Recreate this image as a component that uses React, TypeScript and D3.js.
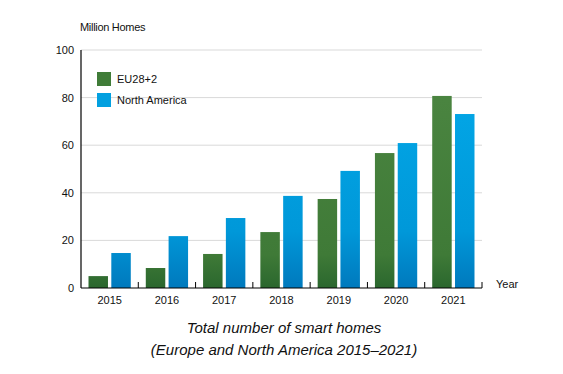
import React, { useEffect, useRef } from 'react';
import * as d3 from 'd3';

const years = ['2015', '2016', '2017', '2018', '2019', '2020', '2021'];
const euValues = [5, 8.4, 14.3, 23.5, 37.4, 56.7, 80.7];
const naValues = [14.7, 21.8, 29.4, 38.7, 49.2, 60.9, 73.1];
const yTicks = [0, 20, 40, 60, 80, 100];
const seriesNames = ['EU28+2', 'North America'];

const App = () => {
  const ref = useRef<SVGSVGElement | null>(null);

  useEffect(() => {
    if (!ref.current) return;
    const svg = d3.select(ref.current);
    svg.selectAll('*').remove();

    const margin = { top: 50, left: 81, right: 81, bottom: 86 };
    const W = 563;
    const H = 374;
    const innerW = W - margin.left - margin.right;
    const innerH = H - margin.top - margin.bottom;
    const font = '"Liberation Sans", Arial, Helvetica, sans-serif';

    const x = d3.scaleBand().domain(years).range([0, innerW]).paddingInner(0).paddingOuter(0);
    const y = d3.scaleLinear().domain([0, 100]).range([innerH, 0]);

    const defs = svg.append('defs');
    const green = defs.append('linearGradient')
      .attr('id', 'greenGrad')
      .attr('gradientUnits', 'userSpaceOnUse')
      .attr('x1', 0).attr('x2', 0)
      .attr('y1', margin.top).attr('y2', margin.top + innerH);
    green.append('stop').attr('offset', '0%').attr('stop-color', '#4a8440');
    green.append('stop').attr('offset', '65%').attr('stop-color', '#3f7a37');
    green.append('stop').attr('offset', '100%').attr('stop-color', '#0b4a20');

    const blue = defs.append('linearGradient')
      .attr('id', 'blueGrad')
      .attr('gradientUnits', 'userSpaceOnUse')
      .attr('x1', 0).attr('x2', 0)
      .attr('y1', margin.top).attr('y2', margin.top + innerH);
    blue.append('stop').attr('offset', '0%').attr('stop-color', '#02a6e6');
    blue.append('stop').attr('offset', '55%').attr('stop-color', '#0098d9');
    blue.append('stop').attr('offset', '100%').attr('stop-color', '#005ea4');

    svg.append('rect').attr('width', W).attr('height', H).attr('fill', '#ffffff');

    const g = svg.append('g').attr('transform', `translate(${margin.left},${margin.top})`);

    // grid lines
    g.selectAll('.grid')
      .data(yTicks.filter(d => d > 0))
      .enter()
      .append('line')
      .attr('x1', 0)
      .attr('x2', innerW)
      .attr('y1', d => y(d))
      .attr('y2', d => y(d))
      .attr('stroke', '#d9d9d9')
      .attr('stroke-width', 1);

    // y tick labels
    g.selectAll('.ylab')
      .data(yTicks)
      .enter()
      .append('text')
      .attr('x', -7)
      .attr('y', d => y(d) + 4)
      .attr('text-anchor', 'end')
      .style('font-family', font)
      .style('font-size', '11px')
      .style('fill', '#111')
      .text(d => d);

    const bw = x.bandwidth();
    const barW = bw * 0.34;
    const gap = bw * 0.058;
    const offset = (bw - 2 * barW - gap) / 2;

    g.selectAll('.eu')
      .data(euValues)
      .enter()
      .append('rect')
      .attr('x', (d, i) => (x(years[i]) as number) + offset)
      .attr('y', d => y(d))
      .attr('width', barW)
      .attr('height', d => innerH - y(d))
      .attr('fill', 'url(#greenGrad)');

    g.selectAll('.na')
      .data(naValues)
      .enter()
      .append('rect')
      .attr('x', (d, i) => (x(years[i]) as number) + offset + barW + gap)
      .attr('y', d => y(d))
      .attr('width', barW)
      .attr('height', d => innerH - y(d))
      .attr('fill', 'url(#blueGrad)');

    // axes lines
    g.append('line')
      .attr('x1', 0).attr('x2', 0)
      .attr('y1', 0).attr('y2', innerH)
      .attr('stroke', '#000').attr('stroke-width', 1.2);
    g.append('line')
      .attr('x1', 0).attr('x2', innerW)
      .attr('y1', innerH).attr('y2', innerH)
      .attr('stroke', '#000').attr('stroke-width', 1.2);

    // x ticks at band boundaries
    const boundaries = years.slice(1).map(d => x(d) as number).concat([innerW]);
    g.selectAll('.xtick')
      .data(boundaries)
      .enter()
      .append('line')
      .attr('x1', d => d).attr('x2', d => d)
      .attr('y1', innerH - 6).attr('y2', innerH)
      .attr('stroke', '#000').attr('stroke-width', 1);

    g.selectAll('.xlab')
      .data(years)
      .enter()
      .append('text')
      .attr('x', d => (x(d) as number) + bw / 2)
      .attr('y', innerH + 16)
      .attr('text-anchor', 'middle')
      .style('font-family', font)
      .style('font-size', '11px')
      .style('fill', '#111')
      .text(d => d);

    // axis titles
    svg.append('text')
      .attr('x', margin.left - 1)
      .attr('y', 31)
      .style('font-family', font)
      .style('font-size', '11px')
      .style('letter-spacing', '-0.3px')
      .style('fill', '#111')
      .text('Million Homes');

    svg.append('text')
      .attr('x', 496)
      .attr('y', 288)
      .style('font-family', font)
      .style('font-size', '11px')
      .style('fill', '#111')
      .text('Year');

    // legend
    const legendFills = ['url(#greenGrad)', 'url(#blueGrad)'];
    const legend = svg.append('g').attr('transform', 'translate(97,72)');
    seriesNames.forEach((name, i) => {
      legend.append('rect')
        .attr('x', 0)
        .attr('y', i * 21)
        .attr('width', 14)
        .attr('height', 14)
        .attr('fill', i === 0 ? '#407c38' : '#03a0e0');
      legend.append('text')
        .attr('x', 20)
        .attr('y', i * 21 + 11)
        .style('font-family', font)
        .style('font-size', '11px')
        .style('fill', '#111')
        .text(name);
    });
    void legendFills;

    // title
    const title = svg.append('text')
      .attr('text-anchor', 'middle')
      .style('font-family', font)
      .style('font-size', '15px')
      .style('font-style', 'italic')
      .style('fill', '#111');
    title.append('tspan').attr('x', 284).attr('y', 333).text('Total number of smart homes');
    title.append('tspan').attr('x', 284).attr('y', 355).text('(Europe and North America 2015–2021)');
  }, []);

  return (
    <div style={{ position: 'absolute', left: 0, top: 0 }}>
      <svg ref={ref} width={563} height={374} style={{ display: 'block' }} />
    </div>
  );
};

export default App;
